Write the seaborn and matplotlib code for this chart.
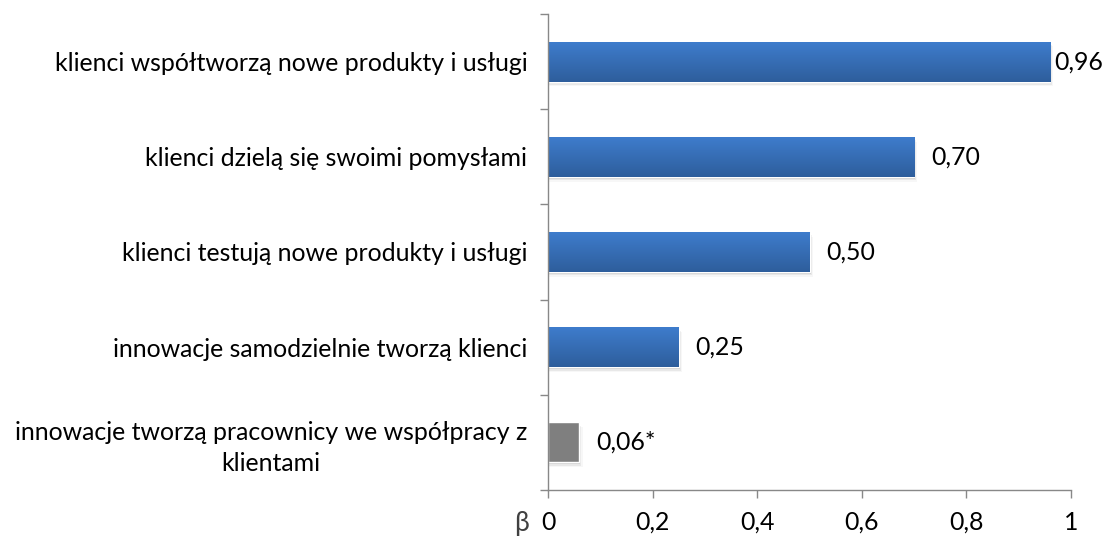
import numpy as np
import pandas as pd
import matplotlib
matplotlib.use("Agg")
import matplotlib.pyplot as plt
import seaborn as sns
from matplotlib.colors import LinearSegmentedColormap

categories = [
    "klienci współtworzą nowe produkty i usługi",
    "klienci dzielą się swoimi pomysłami",
    "klienci testują nowe produkty i usługi",
    "innowacje samodzielnie tworzą klienci",
    "innowacje tworzą pracownicy we współpracy z\nklientami",
]
beta = [0.96, 0.70, 0.50, 0.25, 0.06]
significant = [True, True, True, True, False]
x_ticks = [0, 0.2, 0.4, 0.6, 0.8, 1.0]

sns.set_theme(style="white")
plt.rcParams["font.family"] = ["Lato", "DejaVu Sans"]
FS = 17.9

df = pd.DataFrame({"kategoria": categories, "beta": beta,
                   "grupa": ["sig" if s else "ns" for s in significant]})

fig = plt.figure(figsize=(11.08, 5.38), dpi=100)
ax = fig.add_axes([0.4946, 0.0892, 0.4720, 0.8848])

sns.barplot(data=df, y="kategoria", x="beta", hue="grupa",
            palette={"sig": "#3a73c2", "ns": "#7f7f7f"},
            orient="h", width=0.42, dodge=False, legend=False, ax=ax,
            saturation=1)

# vertical gradient + soft shadow on the bars
blue_cmap = LinearSegmentedColormap.from_list("b", ["#3e7ccc", "#2e5e9c"])
grad = np.linspace(0, 1, 64).reshape(-1, 1)
for patch in list(ax.patches):
    x0, y0 = patch.get_x(), patch.get_y()
    w, h = patch.get_width(), patch.get_height()
    if w <= 0:
        continue
    for k, a in enumerate([0.10, 0.06, 0.03]):
        shadow = plt.Rectangle((x0, y0 + 0.02 + 0.015 * k), w + 0.002 * (k + 1), h,
                               color="#000000", alpha=a, lw=0,
                               zorder=patch.get_zorder() - 0.5)
        ax.add_patch(shadow)
    if patch.get_facecolor()[2] > 0.6:
        im = ax.imshow(grad, cmap=blue_cmap, aspect="auto",
                       extent=(x0, x0 + w, y0 + h, y0),
                       zorder=patch.get_zorder() + 0.1)
        im.set_clip_path(patch)

ax.set_xlim(0, 1)
ax.set_ylim(len(categories) - 0.5, -0.5)
ax.set_xticks(x_ticks)
ax.set_xticklabels([("%g" % t).replace(".", ",") for t in x_ticks])
ax.set_yticks(np.arange(len(categories)))
ax.set_yticklabels(categories, multialignment="center", linespacing=1.4)
ax.set_xlabel("")
ax.set_ylabel("")

# category tick marks sit between the bars
ax.set_yticks(np.arange(len(categories) + 1) - 0.5, minor=True)
ax.tick_params(axis="y", which="major", length=0, pad=15, labelsize=FS,
               labelcolor="#000000")
ax.tick_params(axis="y", which="minor", length=6, width=1, color="#888888",
               left=True)
ax.tick_params(axis="x", length=6, width=1, color="#888888", bottom=True,
               labelsize=FS, pad=9, labelcolor="#000000")

for s in ["top", "right"]:
    ax.spines[s].set_visible(False)
for s in ["left", "bottom"]:
    ax.spines[s].set_color("#888888")
    ax.spines[s].set_linewidth(1)

for i, (v, sig) in enumerate(zip(beta, significant)):
    txt = ("%.2f" % v).replace(".", ",") + ("" if sig else "*")
    off = 3 if v > 0.9 else 12
    ax.annotate(txt, xy=(v, i), xytext=(off, 0), textcoords="offset points",
                ha="left", va="center", fontsize=FS, color="#000000")

fig.text(521 / 1108, 1 - 523 / 538, "β", ha="center", va="center",
         fontsize=19, color="#404040")

fig.savefig("out.png", dpi=100)
